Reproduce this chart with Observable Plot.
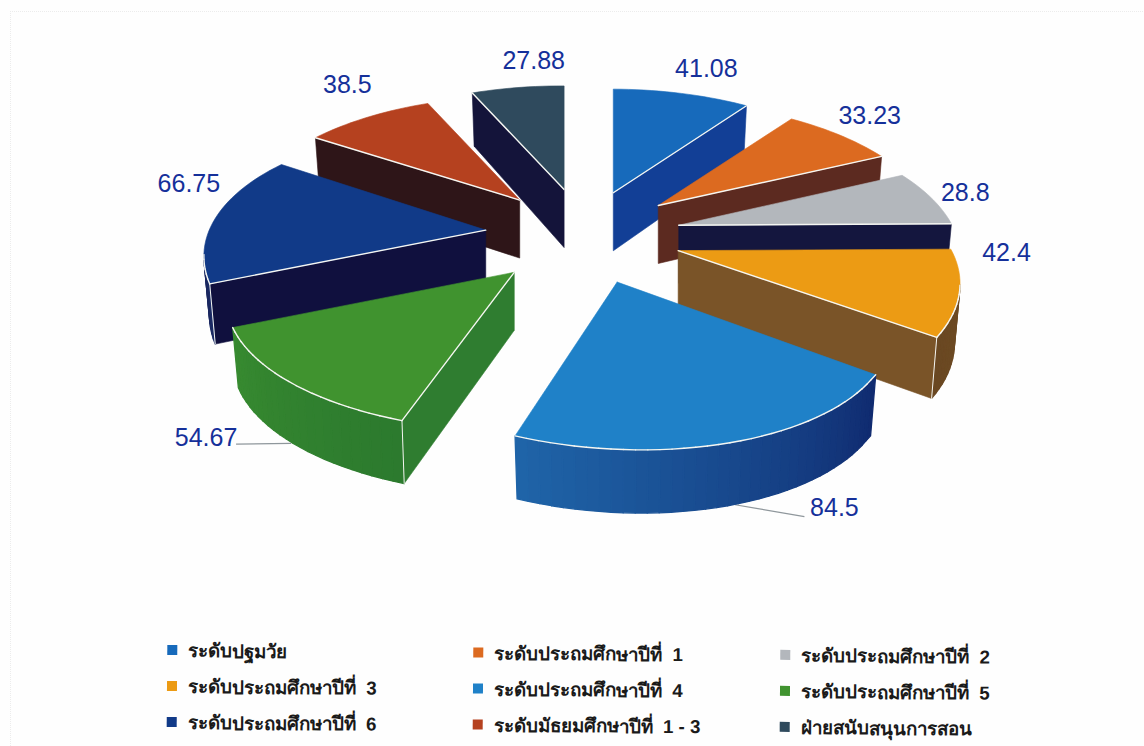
<!DOCTYPE html>
<html lang="th">
<head>
<meta charset="utf-8">
<script src="https://cdn.jsdelivr.net/npm/d3@7"></script>
<script src="https://cdn.jsdelivr.net/npm/@observablehq/plot@0.6"></script>
<style>
  html, body { margin: 0; padding: 0; background: #fefefe; }
  #page { position: relative; width: 1144px; height: 746px; overflow: hidden; }
  #frame { position: absolute; left: 10px; top: 11px; width: 1200px; height: 800px;
           border-left: 1px dotted #ececec; border-top: 1px dotted #ececec; }
  #chart { position: relative; }
  #chart svg { display: block; background: transparent; }
  #legend { position: absolute; left: 167px; top: 632px; width: 860px; height: 108px;
            display: grid; grid-template-columns: 306px 307px 240px; grid-auto-rows: 36px;
            transform: rotate(.45deg); transform-origin: 0 50%;
            font: bold 18.7px "Liberation Sans", "Noto Sans", sans-serif; color: #1a1a1a; }
  #legend div { display: flex; align-items: center; white-space: pre; }
  #legend i { display: inline-block; width: 10px; height: 10px; margin-right: 11px; flex: none; }
</style>
</head>
<body>
<div id="page">
  <div id="frame"></div>
  <div id="chart"></div>
  <div id="legend"></div>
</div>
<script>
const categories = ["ระดับปฐมวัย", "ระดับประถมศึกษาปีที่  1", "ระดับประถมศึกษาปีที่  2",
  "ระดับประถมศึกษาปีที่  3", "ระดับประถมศึกษาปีที่  4", "ระดับประถมศึกษาปีที่  5",
  "ระดับประถมศึกษาปีที่  6", "ระดับมัธยมศึกษาปีที่  1 - 3", "ฝ่ายสนับสนุนการสอน"];
const values = [41.08, 33.23, 28.8, 42.4, 84.5, 54.67, 66.75, 38.5, 27.88];
const topColors = ["#176abb", "#dc6a20", "#b3b7bc", "#ec9b14", "#1f81c8", "#40932f", "#113a88", "#b5411f", "#2f4a5d"];
const faceColors = ["#123f96", "#5c2a20", "#14163e", "#7a5428", "#102b70", "#2f7d30", "#10103e", "#2e1518", "#14143a"];
const arcStart = ["#123f96", "#5c2a20", "#14163e", "#704c24", "#102b70", "#2c7a2e", "#1c2c66", "#2e1518", "#14143a"];
const arcEnd = ["#123f96", "#5c2a20", "#14163e", "#6a4822", "#1f64a8", "#378a30", "#10103e", "#2e1518", "#14143a"];
const paintOrder = [8, 0, 7, 1, 6, 2, 5, 3, 4];

// Layout tuning of the exploded pie (not data)
const labelNudge = [[25, -22], [30, -18], [34, -4], [48, -38], [110, 69], [-91, 50], [-28, -40], [-21, -33], [17, -27]];
const apexNudge = [[0, 2], [0, 0], [0, 0], [1, 0], [3, 0], [-4, 0], [0, -3], [0, 0], [1, 0]];
const sliceTilt = [0.004, 0.008, 0.004, 0.004, 0.027, 0.004, 0.02, 0.004, 0.004];
const frontPull = [0, 0, 0, 0, 8, 0, 0, 0, 0];
const stretchX = [1, 1, 1, 1, 1, 1.02, 1, 1, 1];
const stretchY = [1, 1, 1, 1, 1, 0.95, 1, 1, 1];
const cx = 583, cy = 236, ex = 98, ey = 48, R = 274, qR = 128, p = 0.235, D = 58;

const total = d3.sum(values);
const arcs = [];
let running = 0;
for (const v of values) {
  const a0 = running / total * 2 * Math.PI;
  running += v;
  arcs.push([a0, running / total * 2 * Math.PI]);
}
const midOf = i => (arcs[i][0] + arcs[i][1]) / 2;
const baseApex = i => [cx + ex * Math.sin(midOf(i)), cy - ey * Math.cos(midOf(i))];
const apexOf = i => {
  const [x, y] = baseApex(i);
  return [x + apexNudge[i][0], y + apexNudge[i][1]];
};
const rim = (i, t) => {
  const [ax, ay] = apexOf(i), v = -Math.cos(t), den = 1 - p * v;
  const lx = stretchX[i] * R * Math.sin(t) / den + frontPull[i] * Math.max(0, v - 0.6) / 0.35;
  return [ax + lx, ay + stretchY[i] * qR * v / den + sliceTilt[i] * lx, v];
};
const baseRim = (i, t) => {
  const [ax, ay] = baseApex(i), v = -Math.cos(t), den = 1 - p * v;
  return [ax + R * Math.sin(t) / den, ay + qR * v / den, v];
};
const drop = (i, pt) => {
  const [ax] = apexOf(i), v = pt[2] ?? 0;
  return [ax + (pt[0] - ax) * 0.98, pt[1] + D * (1 + 0.09 * v)];
};

const rows = [];
let nextId = 0;
function shape(pts, fill, stroke, strokeWidth) {
  const id = nextId++;
  for (const q of pts) rows.push({x: q[0], y: q[1], id, fill, stroke, strokeWidth});
}
const edgeColor = "#f5f6f2";

for (const i of paintOrder) {
  const [a0, a1] = arcs[i];
  const steps = Math.max(6, Math.ceil((a1 - a0) / (Math.PI / 90)));
  const arc = d3.range(steps + 1).map(k => rim(i, a0 + (a1 - a0) * k / steps));
  const apex = [...apexOf(i), 0];
  const seen = (a, b) => b[0] < a[0] - 0.01;
  const wall = (a, b, c, w) => shape([a, b, drop(i, b), drop(i, a), a], c, c, w);
  const mixer = d3.interpolateRgb(arcStart[i], arcEnd[i]);
  const highlights = [];
  if (seen(apex, arc[0])) { wall(apex, arc[0], faceColors[i], 0.6); highlights.push([apex, arc[0]]); }
  for (let k = 0; k < steps; k++) {
    if (seen(arc[k], arc[k + 1])) {
      wall(arc[k], arc[k + 1], mixer(k / (steps - 1)), 1.3);
      highlights.push([arc[k], arc[k + 1]]);
    }
  }
  if (seen(arc[steps], apex)) { wall(arc[steps], apex, faceColors[i], 0.6); highlights.push([arc[steps], apex]); }
  shape([apex, ...arc, apex], topColors[i], topColors[i], 0.6);
  for (const h of highlights) shape(h, "none", edgeColor, 1.4);
  // light corner where two visible walls meet
  if (seen(apex, arc[0]) && seen(arc[0], arc[1])) shape([arc[0], drop(i, arc[0])], "none", edgeColor, 1);
  if (seen(arc[steps - 1], arc[steps]) && seen(arc[steps], apex)) shape([arc[steps], drop(i, arc[steps])], "none", edgeColor, 1);
}

const labels = values.map((v, i) => {
  const [x, y] = baseRim(i, midOf(i));
  return {x: x + labelNudge[i][0], y: y + labelNudge[i][1], text: String(v)};
});
// Leader lines for the two big front slices: from the label to the outer wall
const leaders = [4, 5].map(i => {
  const pt = rim(i, midOf(i));
  const b = drop(i, pt);
  const l = labels[i];
  const side = Math.sign(l.x - b[0]);
  return {x1: b[0] + side * 2, y1: b[1], x2: l.x - side * 30, y2: l.y + (i === 4 ? 9 : 6)};
});

const chart = Plot.plot({
  width: 1144, height: 632, margin: 0,
  x: {domain: [0, 1144], range: [0, 1144], axis: null},
  y: {domain: [0, 632], range: [0, 632], axis: null},
  color: {type: "identity"},
  style: {background: "transparent"},
  marks: [
    Plot.link(leaders, {x1: "x1", y1: "y1", x2: "x2", y2: "y2", stroke: "#8f979c", strokeWidth: 1.2}),
    Plot.line(rows, {x: "x", y: "y", z: "id", fill: "fill", stroke: "stroke", strokeWidth: "strokeWidth",
      curve: "linear", strokeLinejoin: "round", strokeLinecap: "round", strokeOpacity: 1}),
    Plot.text(labels, {x: "x", y: "y", text: "text", fill: "#15309a", fontSize: 25,
      fontFamily: "Liberation Sans, Arial, sans-serif", textAnchor: "middle", lineAnchor: "middle"})
  ]
});
document.getElementById("chart").append(chart);

const legend = d3.select("#legend");
categories.forEach((c, i) => {
  const row = legend.append("div");
  row.append("i").style("background", topColors[i]);
  row.append("span").text(c);
});
</script>
</body>
</html>
